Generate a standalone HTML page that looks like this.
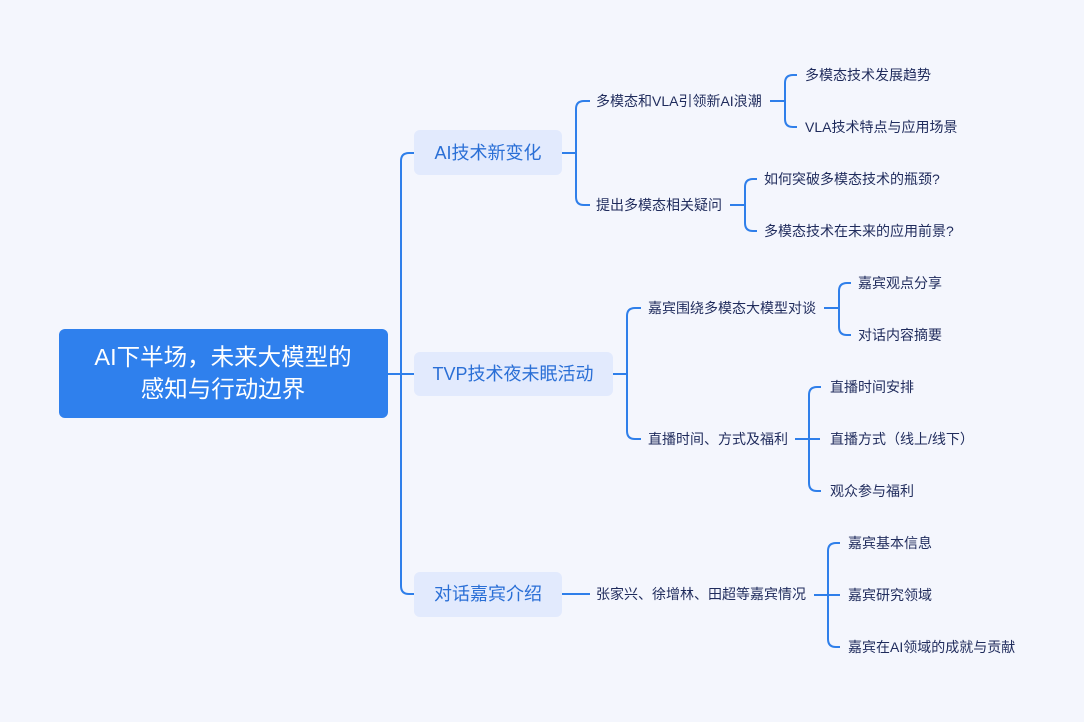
<!DOCTYPE html>
<html><head><meta charset="utf-8"><style>
html,body{margin:0;padding:0;background:#f4f6fd;}
svg{display:block;}
text{font-family:"Liberation Sans","Noto Sans CJK SC",sans-serif;}
.l{font-size:14px;fill:#1f2b5c;dominant-baseline:central;}
.n{font-size:18px;fill:#2a6fd6;dominant-baseline:central;text-anchor:middle;}
path{fill:none;stroke:#2f7fea;stroke-width:2;}
</style></head><body>
<svg width="1084" height="722" viewBox="0 0 1084 722">
<path d="M388 374 H401 M414 153 H409 Q401 153 401 161 V586 Q401 594 409 594 H414 M401 374 H414"/>
<path d="M562 153 H576 M590 101 H584 Q576 101 576 109 V197 Q576 205 584 205 H590"/>
<path d="M770 101 H785 M797 75 H793 Q785 75 785 83 V119 Q785 127 793 127 H797"/>
<path d="M730 205 H745 M757 179 H753 Q745 179 745 187 V223 Q745 231 753 231 H757"/>
<path d="M613 374 H627 M641 308 H635 Q627 308 627 316 V431 Q627 439 635 439 H641"/>
<path d="M824 308 H839 M851 283 H847 Q839 283 839 291 V327 Q839 335 847 335 H851"/>
<path d="M795 439 H820 M821 387 H817 Q809 387 809 395 V483 Q809 491 817 491 H821"/>
<path d="M562 594 H590"/>
<path d="M814 595 H840 M840 543 H836 Q828 543 828 551 V639 Q828 647 836 647 H840"/>
<rect x="59" y="329" width="329" height="89" rx="6" fill="#2f80ed"/>
<text x="223" y="357" fill="#fff" font-size="23.5" text-anchor="middle" dominant-baseline="central">AI下半场，未来大模型的</text>
<text x="223" y="389" fill="#fff" font-size="23.5" text-anchor="middle" dominant-baseline="central">感知与行动边界</text>
<rect x="414" y="130" width="148" height="45" rx="6" fill="#e2eafd"/>
<text class="n" x="488" y="153">AI技术新变化</text>
<rect x="414" y="352" width="199" height="44" rx="6" fill="#e2eafd"/>
<text class="n" x="513" y="374">TVP技术夜未眠活动</text>
<rect x="414" y="572" width="148" height="45" rx="6" fill="#e2eafd"/>
<text class="n" x="488" y="594">对话嘉宾介绍</text>
<text class="l" x="596" y="101">多模态和VLA引领新AI浪潮</text>
<text class="l" x="805" y="75">多模态技术发展趋势</text>
<text class="l" x="805" y="127">VLA技术特点与应用场景</text>
<text class="l" x="596" y="205">提出多模态相关疑问</text>
<text class="l" x="764" y="179">如何突破多模态技术的瓶颈?</text>
<text class="l" x="764" y="231">多模态技术在未来的应用前景?</text>
<text class="l" x="648" y="308">嘉宾围绕多模态大模型对谈</text>
<text class="l" x="858" y="283">嘉宾观点分享</text>
<text class="l" x="858" y="335">对话内容摘要</text>
<text class="l" x="648" y="439">直播时间、方式及福利</text>
<text class="l" x="830" y="387">直播时间安排</text>
<text class="l" x="830" y="439">直播方式（线上/线下）</text>
<text class="l" x="830" y="491">观众参与福利</text>
<text class="l" x="596" y="594">张家兴、徐增林、田超等嘉宾情况</text>
<text class="l" x="848" y="543">嘉宾基本信息</text>
<text class="l" x="848" y="595">嘉宾研究领域</text>
<text class="l" x="848" y="647">嘉宾在AI领域的成就与贡献</text>
</svg>
</body></html>
